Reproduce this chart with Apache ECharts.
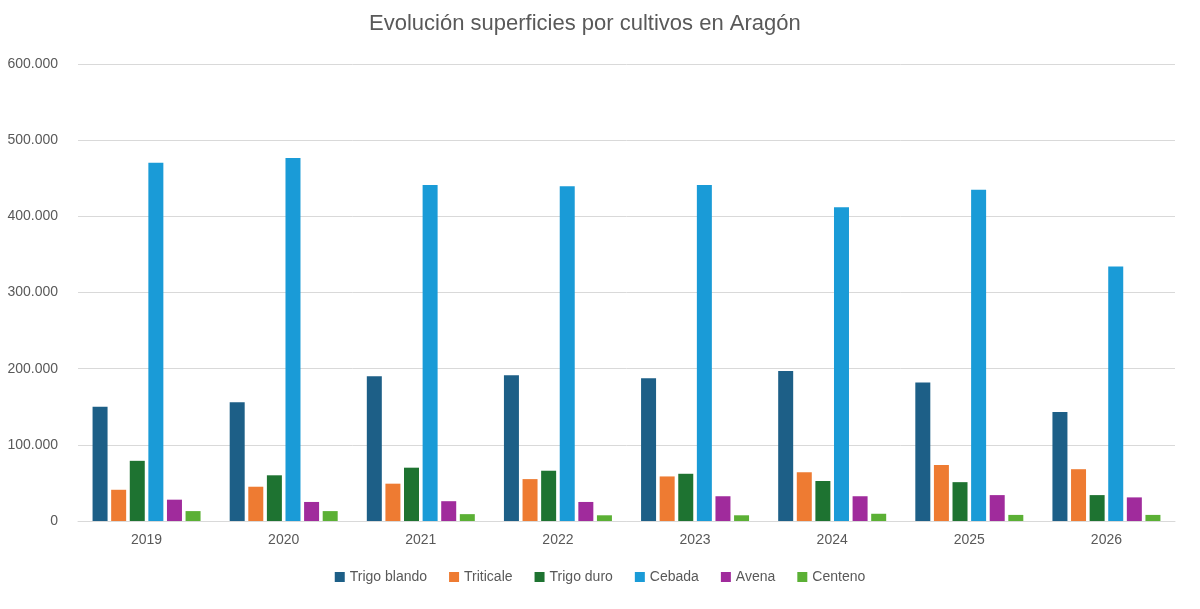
<!DOCTYPE html>
<html>
<head>
<meta charset="utf-8">
<script src="https://cdn.jsdelivr.net/npm/echarts@6/dist/echarts.min.js"></script>
<style>
  html,body{margin:0;padding:0;background:#fff;}
  #chart{width:1200px;height:609px;}
</style>
</head>
<body>
<div id="chart"></div>
<script>
  // campañas
  var years = ['2019', '2020', '2021', '2022', '2023', '2024', '2025', '2026'];
  // superficies (ha)
  var trigoBlando = [150000, 156000, 190000, 191500, 187500, 197000, 182000, 143000];
  var triticale   = [41000, 45000, 49000, 55000, 58500, 64000, 73500, 68000];
  var trigoDuro   = [79000, 60000, 70000, 66000, 62000, 52500, 51000, 34000];
  var cebada      = [470500, 476500, 441000, 439500, 441000, 412000, 435000, 334000];
  var avena       = [28000, 25000, 26000, 25000, 32500, 32500, 34000, 31000];
  var centeno     = [13000, 13000, 9000, 7500, 7500, 9500, 8000, 8000];
  var yTicks = [0, 100000, 200000, 300000, 400000, 500000, 600000];

  var chart = echarts.init(document.getElementById('chart'));

  function miles(v) {
    return String(v).replace(/\B(?=(\d{3})+(?!\d))/g, '.');
  }

  function serie(name, color, data) {
    return {
      name: name,
      type: 'bar',
      barWidth: 15,
      barGap: '24%',
      itemStyle: {color: color},
      data: data
    };
  }

  var option = {
    backgroundColor: '#fff',
    title: {
      text: 'Evolución superficies por cultivos en Aragón',
      left: 364,
      top: 8,
      textStyle: {fontFamily: 'Liberation Sans', fontSize: 22, fontWeight: 'normal', color: '#595959'}
    },
    legend: {
      bottom: 20,
      left: 'center',
      itemWidth: 10,
      itemHeight: 10,
      itemGap: 22,
      icon: 'rect',
      textStyle: {fontFamily: 'Liberation Sans', fontSize: 14, color: '#595959'}
    },
    grid: {left: 78, right: 25, top: 64, bottom: 88},
    xAxis: {
      type: 'category',
      data: years,
      axisLine: {lineStyle: {color: '#d9d9d9'}},
      axisTick: {show: false},
      axisLabel: {fontFamily: 'Liberation Sans', fontSize: 14, color: '#595959', margin: 12}
    },
    yAxis: {
      type: 'value',
      min: yTicks[0],
      max: yTicks[yTicks.length - 1],
      interval: 100000,
      axisLine: {show: false},
      axisTick: {show: false},
      splitLine: {lineStyle: {color: '#d9d9d9'}},
      axisLabel: {fontFamily: 'Liberation Sans', fontSize: 14, color: '#595959', margin: 20, formatter: miles}
    },
    series: [
      serie('Trigo blando', '#1d5f87', trigoBlando),
      serie('Triticale', '#ee7b32', triticale),
      serie('Trigo duro', '#1e7331', trigoDuro),
      serie('Cebada', '#1a9bd7', cebada),
      serie('Avena', '#a02b9c', avena),
      serie('Centeno', '#5bb035', centeno)
    ]
  };

  chart.setOption(option);
</script>
</body>
</html>
